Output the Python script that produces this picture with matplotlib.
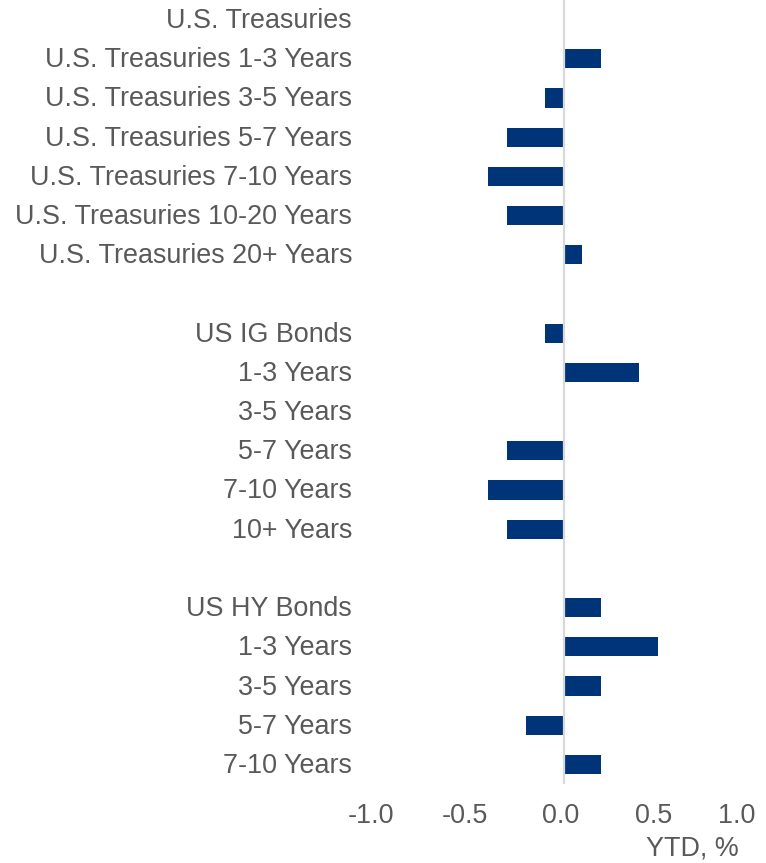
import matplotlib.pyplot as plt
import matplotlib.transforms as mtransforms

# DATA (top to bottom, '' = spacer row)
labels = ["U.S. Treasuries", "U.S. Treasuries 1-3 Years", "U.S. Treasuries 3-5 Years",
          "U.S. Treasuries 5-7 Years", "U.S. Treasuries 7-10 Years",
          "U.S. Treasuries 10-20 Years", "U.S. Treasuries 20+ Years", "",
          "US IG Bonds", "1-3 Years", "3-5 Years", "5-7 Years", "7-10 Years", "10+ Years", "",
          "US HY Bonds", "1-3 Years", "3-5 Years", "5-7 Years", "7-10 Years"]
ytd = [0.0, 0.2, -0.1, -0.3, -0.4, -0.3, 0.1, 0.0,
       -0.1, 0.4, 0.0, -0.3, -0.4, -0.3, 0.0,
       0.2, 0.5, 0.2, -0.2, 0.2]
xticks = [-1.0, -0.5, 0.0, 0.5, 1.0]

plt.rcParams['font.family'] = ['Liberation Sans', 'DejaVu Sans']
text_col = "#595959"
bar_col = "#003478"
fs = 19.4

fig = plt.figure(figsize=(7.66, 8.63), dpi=100)
ax = fig.add_axes([375 / 766, 1 - 784 / 863, 377 / 766, 784 / 863])

pos = list(range(len(labels)))
ax.barh(pos, ytd, height=0.49, color=bar_col, zorder=2)
ax.axvline(0, color="#d9d9d9", linewidth=1.6, zorder=3)

ax.set_ylim(len(labels) - 0.5, -0.5)
ax.set_xlim(-1.0, 1.0)
ax.set_yticks(pos)
ax.set_yticklabels(labels, fontsize=fs, color=text_col)
ax.set_xticks(xticks)
ax.set_xticklabels([f"{v:.1f}" for v in xticks], fontsize=fs, color=text_col)
ax.tick_params(axis='both', length=0)
ax.tick_params(axis='y', pad=16.5)
ax.tick_params(axis='x', pad=13.5)
for s in ax.spines.values():
    s.set_visible(False)

# text sits a touch higher in the original
for lab in ax.get_yticklabels():
    lab.set_transform(lab.get_transform() + mtransforms.ScaledTranslation(0, 1.5 / 100, fig.dpi_scale_trans))

# nudge tick labels like the original, last one kept inside the figure
shifts = [-4, -4, -3, -4, -15]
for lab, dx in zip(ax.get_xticklabels(), shifts):
    lab.set_transform(lab.get_transform() + mtransforms.ScaledTranslation(dx / 100, 0, fig.dpi_scale_trans))

fig.text(692 / 766, 1 - 848 / 863, "YTD, %", fontsize=fs, color=text_col, ha='center', va='center')

fig.savefig("out.png", dpi=100)
